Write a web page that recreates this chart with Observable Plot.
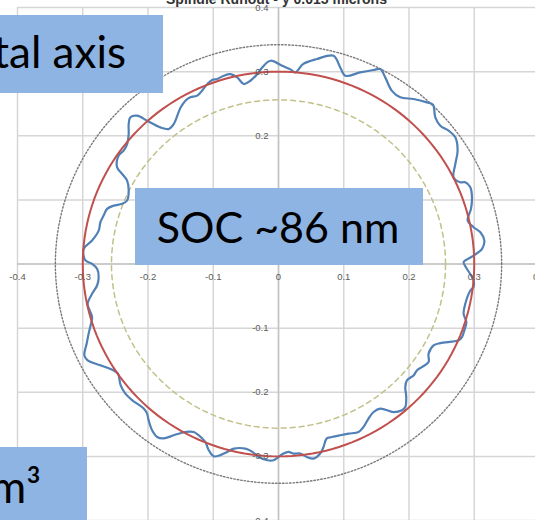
<!DOCTYPE html>
<html>
<head>
<meta charset="utf-8">
<script src="https://cdn.jsdelivr.net/npm/d3@7"></script>
<script src="https://cdn.jsdelivr.net/npm/@observablehq/plot@0.6"></script>
<style>
  html, body { margin: 0; padding: 0; background: #fff; }
  #wrap { position: relative; width: 535px; height: 520px; overflow: hidden; }
  #overlay { position: absolute; left: 0; top: 0; pointer-events: none; }
  #overlay text { font-family: Lato, "Open Sans", sans-serif; fill: #000; }
</style>
</head>
<body>
<div id="wrap">
  <div id="chart"></div>
  <svg id="overlay" width="535" height="520">
    <rect x="0" y="15" width="163" height="78" fill="#8EB4E3"></rect>
    <text x="126" y="68" font-size="44" text-anchor="end">tal axis</text>
    <rect x="135" y="188" width="288" height="77" fill="#8EB4E3"></rect>
    <text x="278" y="243" font-size="43" text-anchor="middle">SOC ~86 nm</text>
    <rect x="0" y="447" width="87" height="73" fill="#8EB4E3"></rect>
    <text x="41" y="503" font-size="44" text-anchor="end">m³</text>
  </svg>
</div>
<script>
// ---- data ----
const title = "Spindle Runout - y 0.015 microns";
const gridTicks = [-0.4, -0.3, -0.2, -0.1, 0, 0.1, 0.2, 0.3, 0.4];
const xTickLabels = ["-0.4", "-0.3", "-0.2", "-0.1", "0", "0.1", "0.2", "0.3", "0.4"];
const yTickValues = [-0.4, -0.3, -0.2, -0.1, 0.1, 0.2, 0.3, 0.4];
const yTickLabels = ["-0.4", "-0.3", "-0.2", "-0.1", "0.1", "0.2", "0.3", "0.4"];

// reference circles: min radius, best-fit radius, max radius
const minRadius = 0.256;
const fitRadius = 0.30;
const maxRadius = 0.342;

// measured runout trace (x, y), clockwise from the top
const traceX = [-0.0123, 0.0057, 0.0184, 0.0256, 0.038, 0.0588, 0.0844, 0.0946, 0.1023, 0.1253,
  0.1457, 0.156, 0.1636, 0.1738, 0.1866, 0.207, 0.2275, 0.2367, 0.2403, 0.248,
  0.2607, 0.271, 0.2745, 0.271, 0.2684, 0.2787, 0.2863, 0.294, 0.2965, 0.295,
  0.2899, 0.299, 0.3094, 0.3155, 0.312, 0.299, 0.2863, 0.2837, 0.299, 0.2988,
  0.294, 0.2863, 0.2837, 0.2879, 0.2848, 0.2812, 0.276, 0.248, 0.2377, 0.230,
  0.230, 0.2198, 0.2121, 0.207, 0.1968, 0.1943, 0.1958, 0.1943, 0.1891, 0.1764,
  0.156, 0.1457, 0.138, 0.1304, 0.1227, 0.1074, 0.0946, 0.0818, 0.074, 0.069,
  0.064, 0.0537, 0.0434, 0.0333, 0.0230, 0.0153, 0.0077, 0.0, -0.0077, -0.017,
  -0.0302, -0.040, -0.0506, -0.0685, -0.0787, -0.089, -0.099, -0.1069, -0.112, -0.117,
  -0.130, -0.1426, -0.1606, -0.176, -0.186, -0.1937, -0.199, -0.2014, -0.2066, -0.2167,
  -0.224, -0.2347, -0.242, -0.246, -0.2526, -0.273, -0.293, -0.2975, -0.294, -0.291,
  -0.288, -0.2857, -0.2894, -0.2925, -0.2857, -0.278, -0.2756, -0.278, -0.2857, -0.296,
  -0.2986, -0.2857, -0.2756, -0.273, -0.268, -0.2627, -0.2526, -0.2397, -0.232, -0.2296,
  -0.232, -0.2397, -0.2474, -0.245, -0.2373, -0.232, -0.2296, -0.2296, -0.227, -0.2167,
  -0.2014, -0.181, -0.168, -0.1606, -0.150, -0.1426, -0.135, -0.1247, -0.109, -0.1017,
  -0.094, -0.0839, -0.0736, -0.0633, -0.0532, -0.043, -0.0327, -0.025];
const traceY = [0.317, 0.309, 0.3035, 0.2988, 0.312, 0.3196, 0.3248, 0.3065, 0.2936, 0.2988,
  0.3025, 0.304, 0.291, 0.270, 0.26, 0.2573, 0.252, 0.2484, 0.2287, 0.2157,
  0.208, 0.1975, 0.1768, 0.156, 0.135, 0.1274, 0.1274, 0.1196, 0.104, 0.086,
  0.0678, 0.0573, 0.0495, 0.0366, 0.0237, 0.0132, 0.0055, 0.0028, -0.0257, -0.036,
  -0.0413, -0.062, -0.0776, -0.0906, -0.1036, -0.114, -0.119, -0.1234, -0.127, -0.140,
  -0.153, -0.1607, -0.166, -0.1737, -0.1815, -0.192, -0.2075, -0.223, -0.228, -0.231,
  -0.2255, -0.2308, -0.241, -0.254, -0.262, -0.2645, -0.267, -0.2698, -0.272, -0.2853,
  -0.2956, -0.3035, -0.301, -0.2956, -0.2956, -0.2931, -0.2956, -0.301, -0.306, -0.306,
  -0.301, -0.293, -0.288, -0.288, -0.293, -0.298, -0.300, -0.2905, -0.2776, -0.272,
  -0.262, -0.262, -0.267, -0.272, -0.2698, -0.2593, -0.2438, -0.2333, -0.2255, -0.2178,
  -0.2126, -0.2022, -0.189, -0.171, -0.166, -0.158, -0.150, -0.1425, -0.124, -0.1087,
  -0.0958, -0.0829, -0.0724, -0.062, -0.0464, -0.0335, -0.0206, -0.0075, 0.0003, 0.0055,
  0.0237, 0.0366, 0.052, 0.065, 0.0755, 0.086, 0.091, 0.0938, 0.099, 0.1118,
  0.130, 0.1405, 0.151, 0.169, 0.1768, 0.187, 0.2028, 0.218, 0.2287, 0.2313,
  0.2235, 0.213, 0.2106, 0.218, 0.244, 0.2547, 0.26, 0.2625, 0.2807, 0.287,
  0.2885, 0.2936, 0.296, 0.291, 0.2807, 0.2858, 0.296, 0.3065];

// ---- build tables ----
const trace = traceX.map((x, i) => ({x, y: traceY[i]}));
const circlePoints = (r) => d3.range(0, 360, 2).map(a => ({
  x: r * Math.cos(a * Math.PI / 180),
  y: r * Math.sin(a * Math.PI / 180)
}));
const xTicks = gridTicks.map((v, i) => ({v, label: xTickLabels[i]}));
const yTicks = yTickValues.map((v, i) => ({v, label: yTickLabels[i]}));

const chart = Plot.plot({
  width: 535,
  height: 520,
  marginTop: 7,
  marginBottom: 0,
  marginLeft: 17,
  marginRight: 0,
  x: {domain: [-0.4, 0.4], range: [17, 539], axis: null},
  y: {domain: [-0.4, 0.4], range: [520, 7], axis: null},
  style: {background: "#fff", fontFamily: "'Liberation Sans', Arial, sans-serif"},
  marks: [
    Plot.ruleX(gridTicks, {x: d => d, stroke: "#d6d6d6", strokeWidth: 1.5, strokeOpacity: 1}),
    Plot.ruleY(gridTicks, {y: d => d, stroke: "#d6d6d6", strokeWidth: 1.5, strokeOpacity: 1}),
    Plot.ruleX([0], {stroke: "#c4c4c4", strokeWidth: 1.5, strokeOpacity: 1}),
    Plot.ruleY([0], {stroke: "#c4c4c4", strokeWidth: 1.5, strokeOpacity: 1}),
    Plot.line(circlePoints(maxRadius), {x: "x", y: "y", curve: "linear-closed",
      stroke: "#7a7a7a", strokeWidth: 1.4, strokeDasharray: "1.5,2"}),
    Plot.line(circlePoints(minRadius), {x: "x", y: "y", curve: "linear-closed",
      stroke: "#c2c18a", strokeWidth: 1.5, strokeDasharray: "5,4"}),
    Plot.line(trace, {x: "x", y: "y", curve: "catmull-rom-closed",
      stroke: "#5080b5", strokeWidth: 2.2}),
    Plot.line(circlePoints(fitRadius), {x: "x", y: "y", curve: "linear-closed",
      stroke: "#c0504d", strokeWidth: 2}),
    Plot.text(xTicks, {x: "v", y: 0, text: "label", dy: 12.5, fontSize: 9.5, fill: "#5a5a5a"}),
    Plot.text(yTicks, {x: 0, y: "v", text: "label", dx: -10, textAnchor: "end", fontSize: 9.5, fill: "#5a5a5a"}),
    Plot.text([title], {frameAnchor: "top", text: d => d, lineAnchor: "bottom", dy: -3.5,
      fontSize: 14, fontWeight: "bold", fill: "#333"})
  ]
});
document.getElementById("chart").appendChild(chart);
</script>
</body>
</html>
